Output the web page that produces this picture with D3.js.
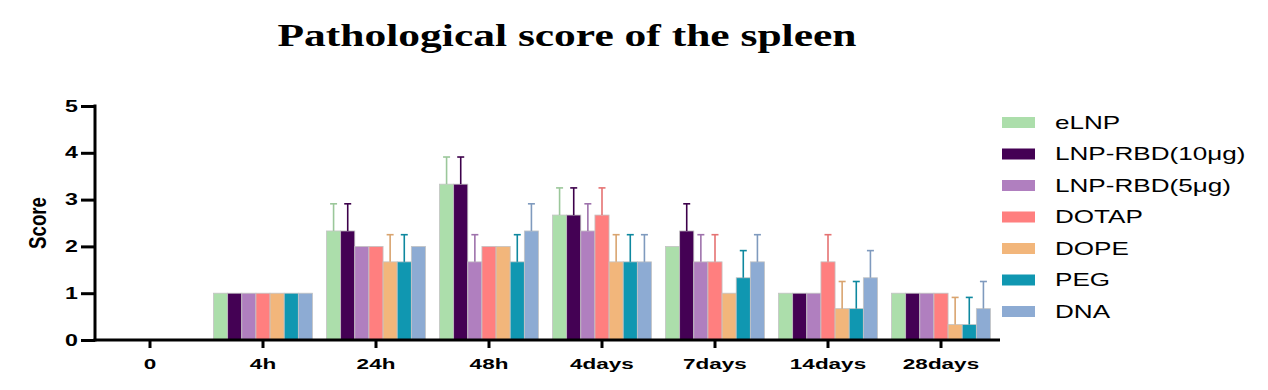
<!DOCTYPE html>
<html>
<head>
<meta charset="utf-8">
<script src="https://cdn.jsdelivr.net/npm/d3@7"></script>
<style>
  body { margin: 0; background: #fff; }
  svg { display: block; }
</style>
</head>
<body>
<div id="chart"></div>
<script>
// timepoints and groups
let categories = ["0", "4h", "24h", "48h", "4days", "7days", "14days", "28days"];
let groups = ["eLNP", "LNP-RBD(10μg)", "LNP-RBD(5μg)", "DOTAP", "DOPE", "PEG", "DNA"];
let colors = ["#acdeab", "#440154", "#b07fbf", "#ff7f7f", "#f2b67b", "#1097b1", "#8dabd3"];
let yTicks = [0, 1, 2, 3, 4, 5];

// mean score per group, one array per group (order = categories)
let eLNP   = [0, 1, 2.33, 3.33, 2.67, 2.00, 1.00, 1.00];
let lnp10  = [0, 1, 2.33, 3.33, 2.67, 2.33, 1.00, 1.00];
let lnp5   = [0, 1, 2.00, 1.67, 2.33, 1.67, 1.00, 1.00];
let dotap  = [0, 1, 2.00, 2.00, 2.67, 1.67, 1.67, 1.00];
let dope   = [0, 1, 1.67, 2.00, 1.67, 1.00, 0.67, 0.33];
let peg    = [0, 1, 1.67, 1.67, 1.67, 1.33, 0.67, 0.33];
let dna    = [0, 1, 2.00, 2.33, 1.67, 1.67, 1.33, 0.67];

// SD (upper whisker only)
let eLNP_sd  = [0, 0, 0.58, 0.58, 0.58, 0, 0, 0];
let lnp10_sd = [0, 0, 0.58, 0.58, 0.58, 0.58, 0, 0];
let lnp5_sd  = [0, 0, 0, 0.58, 0.58, 0.58, 0, 0];
let dotap_sd = [0, 0, 0, 0, 0.58, 0.58, 0.58, 0];
let dope_sd  = [0, 0, 0.58, 0, 0.58, 0, 0.58, 0.58];
let peg_sd   = [0, 0, 0.58, 0.58, 0.58, 0.58, 0.58, 0.58];
let dna_sd   = [0, 0, 0, 0.58, 0.58, 0.58, 0.58, 0.58];

let means = [eLNP, lnp10, lnp5, dotap, dope, peg, dna];
let sds = [eLNP_sd, lnp10_sd, lnp5_sd, dotap_sd, dope_sd, peg_sd, dna_sd];

let width = 1268, height = 390;
let sans = "'Liberation Sans', Arial, sans-serif";

var svg = d3.select("#chart")
    .append("svg")
    .attr("width", width)
    .attr("height", height);

var x0 = d3.scaleBand()
    .domain(categories)
    .range([93.5, 997.5])
    .paddingInner(0.124)
    .paddingOuter(0.062);

var x1 = d3.scaleBand()
    .domain(groups)
    .range([0, x0.bandwidth()]);

var y = d3.scaleLinear()
    .domain([0, 5])
    .range([340, 106]);

var color = d3.scaleOrdinal().domain(groups).range(colors);

// build flat table for the bars
let rows = [];
categories.forEach(function(c, i) {
    groups.forEach(function(g, j) {
        rows.push({ cat: c, group: g, value: means[j][i], sd: sds[j][i] });
    });
});

// title
svg.append("text")
    .attr("x", 567)
    .attr("y", 46)
    .attr("text-anchor", "middle")
    .attr("textLength", 579)
    .attr("lengthAdjust", "spacingAndGlyphs")
    .style("font-family", "'Liberation Serif', 'Times New Roman', serif")
    .style("font-weight", "bold")
    .style("font-size", "32px")
    .text("Pathological score of the spleen");

// bars
var bars = svg.append("g");
bars.selectAll("rect")
    .data(rows.filter(function(d) { return d.value > 0; }))
    .enter()
    .append("rect")
    .attr("x", function(d) { return x0(d.cat) + x1(d.group); })
    .attr("y", function(d) { return y(d.value); })
    .attr("width", x1.bandwidth())
    .attr("height", function(d) { return y(0) - y(d.value); })
    .attr("fill", function(d) { return color(d.group); })
    .attr("stroke", "#c4c4c4")
    .attr("stroke-width", 0.8);

// error bars (upper only)
var errs = svg.append("g");
var errRows = rows.filter(function(d) { return d.sd > 0; });
let cx = function(d) { return x0(d.cat) + x1(d.group) + x1.bandwidth() / 2; };
errs.selectAll("line.v")
    .data(errRows)
    .enter()
    .append("line")
    .attr("class", "v")
    .attr("x1", cx)
    .attr("x2", cx)
    .attr("y1", function(d) { return y(d.value); })
    .attr("y2", function(d) { return y(d.value + d.sd); })
    .attr("stroke", function(d) { return d3.color(color(d.group)).darker(0.3); })
    .attr("stroke-width", 1.6);
errs.selectAll("line.cap")
    .data(errRows)
    .enter()
    .append("line")
    .attr("class", "cap")
    .attr("x1", function(d) { return cx(d) - 3.5; })
    .attr("x2", function(d) { return cx(d) + 3.5; })
    .attr("y1", function(d) { return y(d.value + d.sd); })
    .attr("y2", function(d) { return y(d.value + d.sd); })
    .attr("stroke", function(d) { return d3.color(color(d.group)).darker(0.3); })
    .attr("stroke-width", 1.6);

// axes
var xAxis = svg.append("g")
    .attr("transform", "translate(0,340)")
    .call(d3.axisBottom(x0).tickSizeInner(8).tickSizeOuter(0).tickPadding(10));
xAxis.select(".domain").attr("stroke-width", 3).attr("d", "M93.5,0H1000");
xAxis.selectAll(".tick line").attr("stroke-width", 3);
xAxis.selectAll(".tick text")
    .attr("transform", "scale(1.5,1)")
    .style("font-family", sans)
    .style("font-weight", "bold")
    .style("font-size", "15px")
    .attr("fill", "#000");

var yAxis = svg.append("g")
    .attr("transform", "translate(95,0)")
    .call(d3.axisLeft(y).tickValues(yTicks).tickFormat(d3.format("d"))
        .tickSizeInner(14).tickSizeOuter(0).tickPadding(3));
yAxis.select(".domain").attr("stroke-width", 3).attr("d", "M0,104.5V341.5");
yAxis.selectAll(".tick line").attr("stroke-width", 3);
yAxis.selectAll(".tick text")
    .attr("x", -17 / 1.45)
    .attr("transform", "scale(1.45,1)")
    .style("font-family", sans)
    .style("font-weight", "bold")
    .style("font-size", "16px")
    .attr("fill", "#000");

svg.append("text")
    .attr("transform", "translate(46,223) rotate(-90) scale(1.1,1.45)")
    .attr("text-anchor", "middle")
    .style("font-family", sans)
    .style("font-size", "17px")
    .style("font-weight", "bold")
    .text("Score");

// legend
var legend = svg.append("g");
var li = legend.selectAll("g")
    .data(groups)
    .enter()
    .append("g")
    .attr("transform", function(d, i) { return "translate(1002," + (122 + i * 31.5) + ")"; });
li.append("rect")
    .attr("x", 0)
    .attr("y", -5)
    .attr("width", 33)
    .attr("height", 11)
    .attr("fill", function(d) { return color(d); });
li.append("text")
    .attr("x", 53 / 1.45)
    .attr("y", 6.5)
    .attr("transform", "scale(1.45,1)")
    .style("font-family", sans)
    .style("font-size", "18px")
    .text(function(d) { return d; });
</script>
</body>
</html>
